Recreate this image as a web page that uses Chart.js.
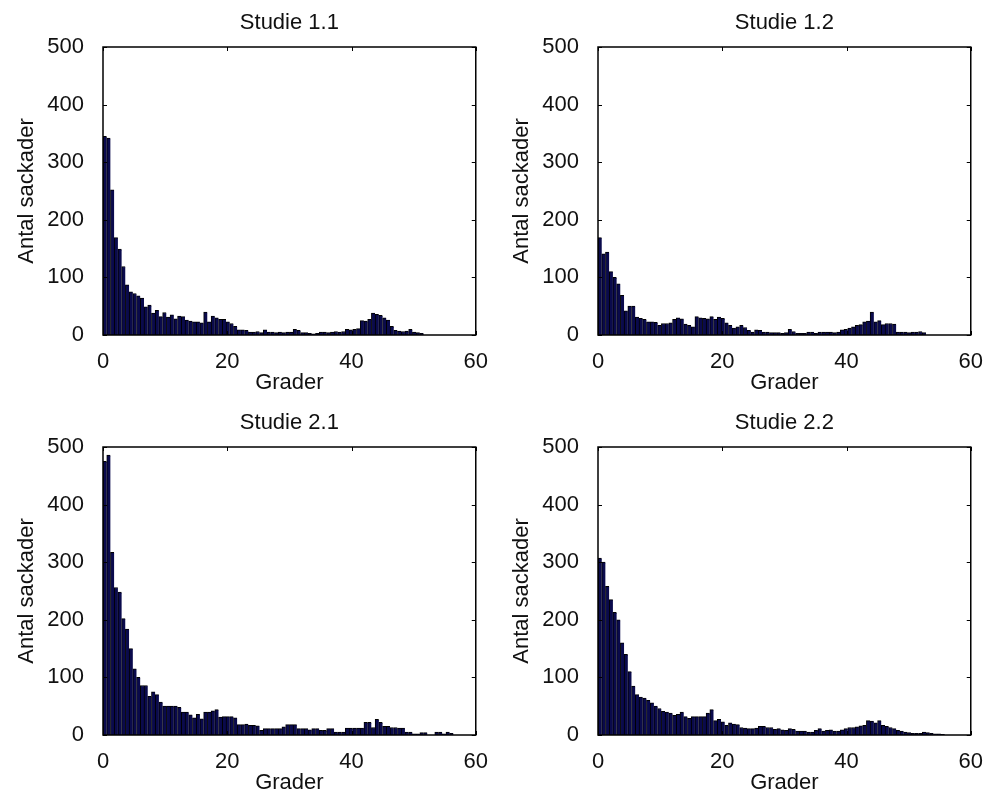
<!DOCTYPE html>
<html>
<head>
<meta charset="utf-8">
<script src="https://cdn.jsdelivr.net/npm/chart.js@4/dist/chart.umd.min.js"></script>
<style>
  body { margin: 0; background: #fff; }
  #wrap { position: relative; width: 989px; height: 800px; }
  canvas { position: absolute; }
</style>
</head>
<body>
<div id="wrap">
  <canvas id="c11" width="494" height="400" style="left:0;top:0"></canvas>
  <canvas id="c12" width="494" height="400" style="left:495px;top:0"></canvas>
  <canvas id="c21" width="494" height="400" style="left:0;top:400px"></canvas>
  <canvas id="c22" width="494" height="400" style="left:495px;top:400px"></canvas>
</div>
<script>
// histogram bins: 100 bins of 0.6 degrees from 0 to 60
const binWidth = 0.6;
const binCount = 100;
const binCenters = Array.from({ length: binCount }, (_, i) => +(binWidth * (i + 0.5)).toFixed(2));

const xTicks = [0, 20, 40, 60];
const yTicks = [0, 100, 200, 300, 400, 500];

const studie11 = [
  345, 342, 252, 169, 149, 119, 87, 75, 72, 68,
  64, 49, 52, 38, 43, 32, 39, 31, 35, 28,
  33, 32, 26, 24, 23, 23, 21, 40, 23, 33,
  30, 27, 27, 23, 20, 15, 9, 9, 8, 5,
  5, 6, 4, 9, 5, 5, 4, 5, 4, 5,
  5, 10, 8, 4, 4, 3, 2, 3, 5, 5,
  4, 5, 6, 5, 6, 10, 9, 10, 11, 25,
  24, 27, 38, 36, 34, 30, 26, 15, 8, 7,
  6, 7, 10, 5, 4, 3, 0, 0, 0, 0,
  0, 0, 0, 0, 0, 0, 0, 0, 0, 0
];
const studie12 = [
  169, 141, 144, 110, 100, 89, 69, 42, 50, 50,
  31, 29, 27, 23, 23, 22, 17, 20, 20, 21,
  27, 30, 28, 19, 17, 14, 32, 30, 29, 28,
  32, 27, 31, 29, 21, 17, 12, 14, 17, 13,
  8, 5, 9, 8, 5, 5, 4, 4, 4, 3,
  4, 10, 6, 3, 3, 3, 5, 5, 3, 5,
  5, 5, 5, 4, 5, 9, 10, 12, 14, 17,
  18, 23, 24, 40, 23, 25, 18, 20, 20, 19,
  5, 5, 5, 4, 5, 5, 6, 4, 0, 0,
  0, 0, 0, 0, 0, 0, 0, 0, 0, 0
];
const studie21 = [
  475, 486, 317, 256, 248, 202, 184, 150, 115, 100,
  86, 86, 67, 75, 70, 57, 50, 50, 50, 50,
  48, 40, 40, 35, 30, 36, 28, 40, 40, 42,
  44, 31, 32, 32, 32, 30, 18, 18, 19, 17,
  17, 16, 8, 11, 11, 11, 11, 11, 14, 18,
  18, 18, 11, 11, 11, 9, 11, 11, 8, 8,
  11, 11, 5, 5, 5, 12, 12, 12, 12, 12,
  22, 22, 13, 27, 22, 15, 15, 13, 13, 12,
  12, 5, 5, 2, 2, 4, 4, 0, 0, 5,
  5, 2, 5, 3, 0, 0, 0, 0, 0, 0
];
const studie22 = [
  307, 300, 258, 235, 213, 200, 160, 140, 110, 85,
  70, 66, 64, 60, 56, 50, 46, 41, 40, 38,
  34, 36, 40, 32, 29, 32, 32, 32, 32, 38,
  44, 25, 27, 23, 17, 21, 19, 18, 13, 12,
  11, 11, 12, 15, 15, 13, 13, 10, 11, 9,
  8, 11, 10, 7, 7, 7, 5, 5, 8, 11,
  7, 8, 9, 7, 7, 9, 11, 13, 13, 14,
  16, 17, 25, 24, 21, 25, 17, 15, 13, 11,
  8, 7, 5, 4, 3, 3, 3, 5, 4, 3,
  2, 2, 1, 0, 0, 0, 0, 0, 0, 0
];

const font = { family: '"Liberation Sans", Arial, sans-serif', size: 22 };
const ink = '#111';

// boxed axes with inward ticks on all four sides
const frameTicks = {
  id: 'frameTicks',
  afterDraw(chart) {
    const { ctx, chartArea: a, scales: { x, y } } = chart;
    const len = 4;
    ctx.save();
    ctx.strokeStyle = '#000';
    ctx.lineWidth = 1.5;
    ctx.strokeRect(a.left, a.top, a.right - a.left, a.bottom - a.top);
    ctx.lineWidth = 1;
    ctx.beginPath();
    x.ticks.forEach(t => {
      const px = Math.round(x.getPixelForValue(t.value)) + 0.5;
      ctx.moveTo(px, a.bottom); ctx.lineTo(px, a.bottom - len);
      ctx.moveTo(px, a.top); ctx.lineTo(px, a.top + len);
    });
    y.ticks.forEach(t => {
      const py = Math.round(y.getPixelForValue(t.value)) + 0.5;
      ctx.moveTo(a.left, py); ctx.lineTo(a.left + len, py);
      ctx.moveTo(a.right, py); ctx.lineTo(a.right - len, py);
    });
    ctx.stroke();
    ctx.restore();
  }
};

function histogram(id, title, counts) {
  const points = binCenters.map((x, i) => ({ x: x, y: counts[i] }));
  new Chart(document.getElementById(id), {
    type: 'bar',
    data: {
      datasets: [{
        data: points,
        backgroundColor: '#0a0a4c',
        borderColor: '#000',
        borderWidth: { left: 1, top: 1, right: 0, bottom: 0 },
        barPercentage: 1,
        categoryPercentage: 1
      }]
    },
    options: {
      responsive: false,
      animation: false,
      layout: { padding: { left: 0, right: 17, top: 0, bottom: 0 } },
      plugins: {
        legend: { display: false },
        tooltip: { enabled: false }
      },
      scales: {
        x: {
          type: 'linear',
          min: 0,
          max: 60,
          offset: false,
          grid: { display: false },
          border: { display: false },
          afterBuildTicks: s => { s.ticks = xTicks.map(v => ({ value: v })); },
          ticks: { color: ink, font: font, padding: 6, maxRotation: 0 },
          title: { display: true, text: 'Grader', color: ink, font: font, padding: { top: 0, bottom: 4 } },
          afterFit: s => { s.height = 65; }
        },
        // top axis only carries the subplot title, centred over the plot box
        top: {
          type: 'linear',
          position: 'top',
          min: 0,
          max: 60,
          grid: { display: false },
          border: { display: false },
          ticks: { display: false },
          title: { display: true, text: title, color: ink, font: font, padding: { top: 10, bottom: 0 } },
          afterFit: s => { s.height = 47; }
        },
        y: {
          min: 0,
          max: 500,
          grid: { display: false },
          border: { display: false },
          afterBuildTicks: s => { s.ticks = yTicks.map(v => ({ value: v })); },
          ticks: { color: ink, font: font, padding: 11 },
          title: { display: true, text: 'Antal sackader', color: ink, font: font, padding: { top: 14, bottom: 0 } },
          afterFit: s => { s.width = 103; }
        }
      }
    },
    plugins: [frameTicks]
  });
}

histogram('c11', 'Studie 1.1', studie11);
histogram('c12', 'Studie 1.2', studie12);
histogram('c21', 'Studie 2.1', studie21);
histogram('c22', 'Studie 2.2', studie22);
</script>
</body>
</html>
